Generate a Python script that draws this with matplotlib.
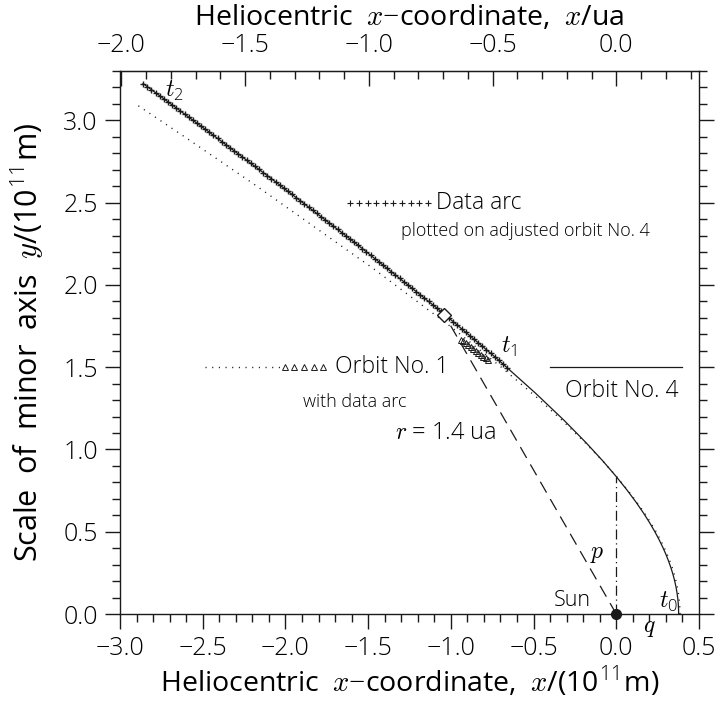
import numpy as np
import matplotlib.pyplot as plt
from matplotlib import font_manager as fm
from matplotlib.ticker import MultipleLocator, FuncFormatter


# thin sans face, to get close to the thin stroke font of the original
def pick_light_face():
    for target in (300, 200):
        for fam in ['Open Sans', 'Roboto', 'Lato', 'DejaVu Sans', 'Noto Sans', 'Inter']:
            for f in fm.fontManager.ttflist:
                w = f.weight if isinstance(f.weight, int) else fm.weight_dict.get(f.weight, 400)
                if f.name == fam and f.style == 'normal' and w == target:
                    return fam, w
    return 'DejaVu Sans', 400


face, weight = pick_light_face()
plt.rcParams['font.family'] = [face, 'DejaVu Sans']
plt.rcParams['font.weight'] = weight
plt.rcParams['mathtext.fontset'] = 'custom'
plt.rcParams['mathtext.it'] = 'cmmi10'
plt.rcParams['mathtext.rm'] = f'{face}:weight={weight}'

AU = 1.496  # 10^11 m per ua

# adjusted orbit No. 4 (solid), perihelion -> t2, units 10^11 m
orbit4_x = [0.377, 0.3763, 0.3744, 0.3711, 0.3664, 0.3602, 0.3524, 0.3428, 0.3313, 0.3176,
            0.3014, 0.2822, 0.2597, 0.2332, 0.2018, 0.1644, 0.1197, 0.0658, 0.0, -0.0814,
            -0.1837, -0.3153, -0.4886, -0.7253, -1.0637, -1.5802, -2.0408, -2.4508, -2.86]
orbit4_y = [0.0, 0.0329, 0.0660, 0.0994, 0.1333, 0.1679, 0.2034, 0.2400, 0.2780, 0.3176,
            0.3591, 0.4031, 0.4498, 0.5000, 0.5543, 0.6136, 0.6791, 0.7521, 0.835, 0.9303,
            1.0421, 1.1766, 1.3424, 1.5555, 1.8424, 2.2567, 2.6121, 2.9208, 3.2236]

# orbit No. 1 (dotted)
orbit1_x = [0.385, 0.3843, 0.3823, 0.3788, 0.3740, 0.3675, 0.3594, 0.3495, 0.3376, 0.3234,
            0.3066, 0.2869, 0.2637, 0.2364, 0.2043, 0.1662, 0.1207, 0.0662, 0.0, -0.0813,
            -0.1826, -0.3112, -0.4785, -0.7023, -1.0139, -1.4711, -2.1944, -2.6137, -2.909]
orbit1_y = [0.0, 0.0336, 0.0674, 0.1015, 0.1361, 0.1714, 0.2075, 0.2447, 0.2833, 0.3234,
            0.3654, 0.4097, 0.4567, 0.5070, 0.5612, 0.6201, 0.6847, 0.7564, 0.8371, 0.9290,
            1.0355, 1.1616, 1.3145, 1.5062, 1.7562, 2.1009, 2.6152, 2.9029, 3.102]

# data arc on orbit No. 4 (t1 -> t2)
arc4_x = [-0.660, -0.685, -0.710, -0.735, -0.760, -0.785, -0.810, -0.835, -0.860, -0.885,
          -0.910, -0.935, -0.960, -0.985, -1.010, -1.035, -1.060, -1.085, -1.110, -1.135,
          -1.160, -1.185, -1.210, -1.235, -1.260, -1.285, -1.310, -1.335, -1.360, -1.385,
          -1.410, -1.435, -1.460, -1.485, -1.510, -1.535, -1.560, -1.585, -1.610, -1.635,
          -1.660, -1.685, -1.710, -1.735, -1.760, -1.785, -1.810, -1.835, -1.860, -1.885,
          -1.910, -1.935, -1.960, -1.985, -2.010, -2.035, -2.060, -2.085, -2.110, -2.135,
          -2.160, -2.185, -2.210, -2.235, -2.260, -2.285, -2.310, -2.335, -2.360, -2.385,
          -2.410, -2.435, -2.460, -2.485, -2.510, -2.535, -2.560, -2.585, -2.610, -2.635,
          -2.660, -2.685, -2.710, -2.735, -2.760, -2.785, -2.810, -2.835, -2.860]
arc4_y = [1.4967, 1.5192, 1.5417, 1.5637, 1.5849, 1.6061, 1.6273, 1.6485, 1.6697, 1.6909,
          1.7121, 1.7333, 1.7545, 1.7757, 1.7969, 1.8181, 1.8393, 1.8595, 1.8795, 1.8996,
          1.9196, 1.9397, 1.9597, 1.9798, 1.9998, 2.0199, 2.0399, 2.0600, 2.0800, 2.1001,
          2.1201, 2.1402, 2.1602, 2.1803, 2.2003, 2.2204, 2.2404, 2.2604, 2.2797, 2.2990,
          2.3183, 2.3376, 2.3569, 2.3762, 2.3955, 2.4148, 2.4341, 2.4534, 2.4727, 2.4920,
          2.5113, 2.5306, 2.5499, 2.5692, 2.5885, 2.6078, 2.6266, 2.6454, 2.6642, 2.6830,
          2.7019, 2.7207, 2.7395, 2.7583, 2.7772, 2.7960, 2.8148, 2.8336, 2.8525, 2.8713,
          2.8901, 2.9089, 2.9276, 2.9461, 2.9646, 2.9831, 3.0016, 3.0201, 3.0386, 3.0571,
          3.0756, 3.0941, 3.1126, 3.1311, 3.1496, 3.1681, 3.1866, 3.2051, 3.2236]

# data arc on orbit No. 1 (triangles)
arc1_x = [-0.94, -0.925, -0.91, -0.895, -0.88, -0.865, -0.85, -0.835, -0.82, -0.805, -0.79, -0.775]
arc1_y = [1.668, 1.657, 1.645, 1.634, 1.622, 1.610, 1.599, 1.587, 1.576, 1.564, 1.553, 1.541]

# point at r = 1.4 ua and the Sun
r14_x, r14_y = -1.04, 1.82
sun_x, sun_y = 0.0, 0.0
p_top = 0.835

# key samples
key_cross_x = [-1.607, -1.555, -1.503, -1.451, -1.399, -1.347, -1.295, -1.243, -1.191, -1.139]
key_cross_y = [2.50] * 10
key_dot_x = [-2.486, -2.014]
key_tri_x = [-2.004, -1.946, -1.888, -1.830, -1.772]
key_y1 = 1.50
key_solid_x = [-0.40, 0.40]
key_y4 = 1.50

ink = '#1a1a1a'
sp = '\u2002'  # wide word space, like the plotting font of the original

fig = plt.figure(figsize=(7.17, 7.02), dpi=100)
ax = fig.add_axes([120 / 717, 1 - 614 / 702, 579 / 717, (614 - 71) / 702])
ax.set_xlim(-3.0, 0.5)
ax.set_ylim(0.0, 3.3)

ax.plot(orbit4_x, orbit4_y, color=ink, lw=0.9)
ax.plot(orbit1_x, orbit1_y, color=ink, lw=1.0, linestyle=(0, (0.8, 4)))
ax.plot(arc4_x, arc4_y, linestyle='none', marker='+', ms=4.5, mew=1.0, color=ink)
ax.plot(arc1_x, arc1_y, linestyle='none', marker='^', ms=4, mew=0.7, mfc='none', mec=ink)

# radius vector r = 1.4 ua and semi-latus rectum p
ax.plot([sun_x, r14_x], [sun_y, r14_y], color=ink, lw=0.9, dashes=(10, 6))
ax.plot([0, 0], [0, p_top], color=ink, lw=0.9, dashes=(8, 3, 1, 3))
ax.plot(r14_x, r14_y, marker='D', ms=7, mfc='white', mec=ink, mew=1.0)
ax.plot(sun_x, sun_y, marker='o', ms=7, color=ink, clip_on=False, zorder=5)

# keys
ax.plot(key_cross_x, key_cross_y, linestyle='none', marker='+', ms=5, mew=0.8, color=ink)
ax.text(-1.092, 2.50, 'Data arc', fontsize=16.5, va='center', ha='left')
ax.text(-1.30, 2.325, 'plotted on adjusted orbit No. 4', fontsize=13, va='center', ha='left')
ax.plot(key_dot_x, [key_y1] * 2, color=ink, lw=1.0, linestyle=(0, (0.8, 4)))
ax.plot(key_tri_x, [key_y1] * 5, linestyle='none', marker='^', ms=4, mew=0.7, mfc='none', mec=ink)
ax.text(-1.70, 1.50, 'Orbit No. 1', fontsize=16.5, va='center', ha='left')
ax.text(-1.893, 1.29, 'with data arc', fontsize=13, va='center', ha='left')
ax.plot(key_solid_x, [key_y4] * 2, color=ink, lw=0.9)
ax.text(-0.308, 1.357, 'Orbit No. 4', fontsize=16.5, va='center', ha='left')

# labels on the figure
ax.text(-2.73, 3.18, r'$t_2$', fontsize=17, va='center', ha='left')
ax.text(-0.695, 1.62, r'$t_1$', fontsize=17, va='center', ha='left')
ax.text(0.26, 0.07, r'$t_0$', fontsize=17, va='center', ha='left')
ax.text(0.20, -0.08, r'$q$', fontsize=17, va='center', ha='center', clip_on=False)
ax.text(-0.115, 0.37, r'$p$', fontsize=17, va='center', ha='center')
ax.text(-0.153, 0.085, 'Sun', fontsize=15.5, va='center', ha='right')
ax.text(-1.34, 1.10, r'$r$ = 1.4 ua', fontsize=17, va='center', ha='left')

# axes
fmt = FuncFormatter(lambda v, pos: f'{v:.1f}'.replace('-', '\u2212'))
ax.xaxis.set_major_locator(MultipleLocator(0.5))
ax.xaxis.set_minor_locator(MultipleLocator(0.1))
ax.yaxis.set_major_locator(MultipleLocator(0.5))
ax.yaxis.set_minor_locator(MultipleLocator(0.1))
ax.xaxis.set_major_formatter(fmt)
ax.yaxis.set_major_formatter(fmt)
ax.tick_params(which='both', direction='out', top=False, right=True, labelsize=18,
               color=ink, width=1.0)
ax.tick_params(which='major', length=11, pad=5)
ax.tick_params(which='minor', length=6)
for s in ax.spines.values():
    s.set_color(ink)
    s.set_linewidth(1.0)

ax.set_xlabel(f'Heliocentric{sp}$x$$-$coordinate,{sp}$x$/(10$^{{11}}$m)',
              fontsize=20.5, labelpad=2)
ax.set_ylabel(f'Scale{sp}of{sp}minor{sp}axis{sp}$y$/(10$^{{11}}$m)',
              fontsize=22, labelpad=12)

secax = ax.secondary_xaxis('top', functions=(lambda x: x / AU, lambda u: u * AU))
secax.set_xticks([-2.0, -1.5, -1.0, -0.5, 0.0])
secax.xaxis.set_minor_locator(MultipleLocator(0.1))
secax.xaxis.set_major_formatter(fmt)
secax.tick_params(which='both', direction='in', labelsize=18, color=ink, width=1.0)
secax.tick_params(which='major', length=11, pad=9)
secax.tick_params(which='minor', length=6)
secax.set_xlabel(f'Heliocentric{sp}$x$$-$coordinate,{sp}$x$/ua', fontsize=20.5, labelpad=6)

fig.savefig('out.png', dpi=100)
